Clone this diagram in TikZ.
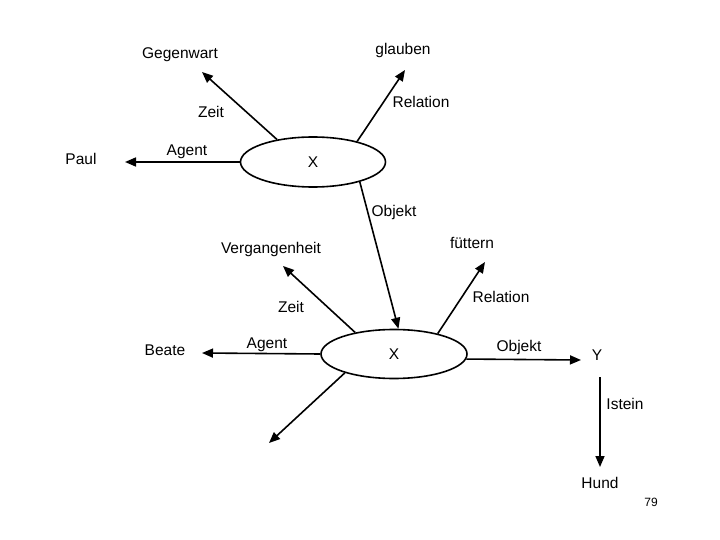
\documentclass[tikz,border=0pt]{standalone}
\usepackage{fontspec}
\setmainfont{Liberation Sans}
\usetikzlibrary{arrows.meta, shapes.geometric}

\begin{document}
\begin{tikzpicture}[x=1pt, y=-1pt,
  lbl/.style={font=\fontsize{15.5}{18}\selectfont, inner sep=0pt},
  sit/.style={draw, ellipse, line width=1.6pt, minimum width=145pt, minimum height=50pt, inner sep=0pt, font=\fontsize{15.5}{18}\selectfont},
  rel/.style={line width=1.6pt, -{Triangle[length=11pt, width=9pt]}}
]
  \useasboundingbox (0,0) rectangle (720,540);

  % glauben-Situation
  \node[sit] (x1) at (313,162) {X};
  \node[lbl] (gegenwart) at (180,55) {Gegenwart};
  \node[lbl] (glauben) at (403,50) {glauben};
  \node[lbl] (paul) at (81,159) {Paul};
  \node[lbl] (zeit1) at (211,112) {Zeit};
  \node[lbl] (rel1) at (421,102) {Relation};
  \node[lbl] (agent1) at (187,152) {Agent};
  \node[lbl] (obj1) at (394,212) {Objekt};
  \coordinate (gegenwartEnd) at (202,72);
  \coordinate (glaubenEnd) at (405,70);
  \coordinate (paulEnd) at (125,162);

  \draw[rel] (x1.148) -- (gegenwartEnd);
  \draw[rel] (x1.25) -- (glaubenEnd);
  \draw[rel] (x1.west) -- (paulEnd);

  % fuettern-Situation
  \node[sit, minimum width=146pt, minimum height=49pt] (x2) at (394,354) {X};
  \node[lbl] (verg) at (271,249) {Vergangenheit};
  \node[lbl] (fuettern) at (472,243) {füttern};
  \node[lbl] (beate) at (165,350) {Beate};
  \node[lbl] (zeit2) at (291,307) {Zeit};
  \node[lbl] (rel2) at (501,297) {Relation};
  \node[lbl] (agent2) at (267,345) {Agent};
  \node[lbl] (obj2) at (519,347) {Objekt};
  \node[lbl] (y) at (597,355) {Y};
  \node[lbl] (istein) at (625,404) {Istein};
  \node[lbl] (hund) at (600,483) {Hund};
  \node[lbl, font=\fontsize{12}{14}\selectfont] (page) at (651,502) {79};
  \coordinate (vergEnd) at (283,266);
  \coordinate (fuetternEnd) at (485,262);
  \coordinate (beateEnd) at (202,353);
  \coordinate (yEnd) at (581,360);
  \coordinate (yStart) at (600,377);
  \coordinate (hundEnd) at (600,467);
  \coordinate (leer) at (269,443);

  \draw[rel] (x1.-23) -- (x2.80);
  \draw[rel] (x2.151) -- (vergEnd);
  \draw[rel] (x2.25) -- (fuetternEnd);
  \draw[rel] (x2.west) -- (beateEnd);
  \draw[rel] (x2.-4) -- (yEnd);
  \draw[rel] (x2.-159) -- (leer);
  \draw[rel] (yStart) -- (hundEnd);
\end{tikzpicture}
\end{document}
